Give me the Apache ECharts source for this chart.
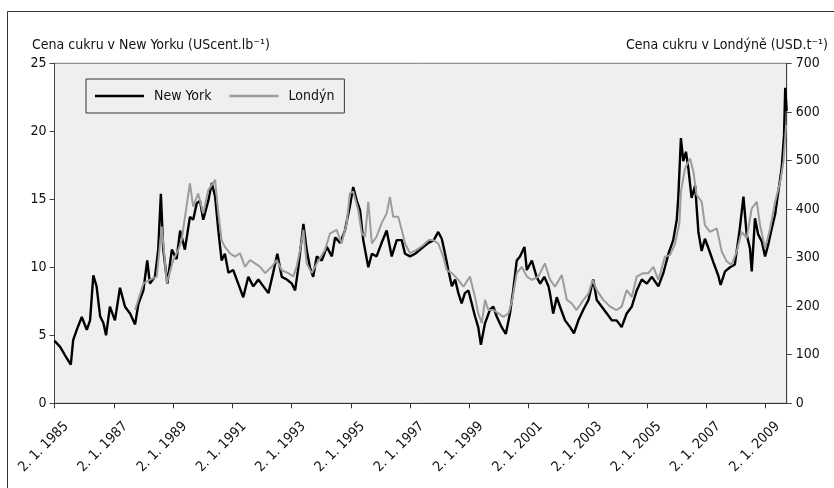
<!DOCTYPE html>
<html>
<head>
<meta charset="utf-8">
<title>Cena cukru</title>
<script src="https://cdn.jsdelivr.net/npm/echarts@6/dist/echarts.min.js"></script>
<style>
  html, body { margin: 0; padding: 0; background: #ffffff; }
  #chart { width: 834px; height: 488px; }
</style>
</head>
<body>
<div id="chart"></div>
<script>
// New York raw sugar price, US cents per lb (left axis); time in decimal years
const nyYears = [1985.00,1985.05,1985.19,1985.35,1985.55,1985.63,1985.75,1985.92,1986.09,1986.20,1986.31,1986.42,1986.54,1986.65,1986.74,1986.87,1987.04,1987.21,1987.38,1987.55,1987.72,1987.83,1988.00,1988.13,1988.22,1988.39,1988.50,1988.59,1988.67,1988.81,1988.96,1989.12,1989.24,1989.40,1989.57,1989.68,1989.80,1989.91,1990.02,1990.19,1990.31,1990.42,1990.53,1990.64,1990.75,1990.87,1991.03,1991.20,1991.37,1991.54,1991.71,1991.88,1992.05,1992.22,1992.38,1992.52,1992.67,1992.84,1993.01,1993.12,1993.23,1993.40,1993.51,1993.62,1993.73,1993.85,1994.02,1994.19,1994.36,1994.47,1994.64,1994.80,1994.97,1995.08,1995.20,1995.31,1995.42,1995.59,1995.71,1995.87,1996.04,1996.21,1996.38,1996.55,1996.72,1996.83,1997.00,1997.17,1997.34,1997.62,1997.80,1997.95,1998.07,1998.18,1998.29,1998.41,1998.52,1998.63,1998.74,1998.85,1998.97,1999.08,1999.19,1999.30,1999.39,1999.53,1999.70,1999.81,1999.92,2000.09,2000.23,2000.37,2000.48,2000.60,2000.71,2000.86,2000.94,2001.11,2001.27,2001.39,2001.53,2001.67,2001.72,2001.83,2001.95,2002.06,2002.23,2002.40,2002.53,2002.68,2002.85,2003.02,2003.18,2003.30,2003.47,2003.64,2003.81,2003.97,2004.14,2004.31,2004.48,2004.65,2004.82,2004.99,2005.16,2005.38,2005.55,2005.72,2005.88,2006.00,2006.05,2006.14,2006.22,2006.31,2006.39,2006.50,2006.62,2006.73,2006.84,2006.95,2007.07,2007.23,2007.40,2007.48,2007.63,2007.80,2007.96,2008.13,2008.25,2008.36,2008.47,2008.53,2008.64,2008.75,2008.87,2008.98,2009.09,2009.21,2009.32,2009.43,2009.54,2009.62,2009.66,2009.71];
const nyPrices = [4.6,4.5,4.15,3.55,2.85,4.65,5.4,6.35,5.4,6.1,9.4,8.6,6.4,5.9,5.0,7.1,6.1,8.5,7.1,6.6,5.8,7.3,8.3,10.5,8.8,9.3,11.3,15.4,11.3,8.8,11.3,10.6,12.7,11.3,13.7,13.5,14.7,14.9,13.5,14.9,16.2,15.2,12.7,10.5,11.0,9.6,9.8,8.8,7.8,9.3,8.6,9.1,8.6,8.1,9.6,11.0,9.3,9.1,8.8,8.3,10.0,13.2,11.3,10.0,9.3,10.8,10.5,11.5,10.8,12.2,11.8,12.7,14.5,15.9,14.9,14.2,12.0,10.0,11.0,10.8,11.8,12.7,10.8,12.0,12.0,11.0,10.8,11.0,11.3,11.8,12.0,12.6,12.1,11.0,9.8,8.6,9.1,8.1,7.35,8.1,8.3,7.35,6.4,5.6,4.3,5.9,6.9,7.1,6.4,5.6,5.1,6.6,8.3,10.5,10.8,11.5,9.8,10.5,9.3,8.8,9.3,8.6,8.1,6.6,7.8,7.1,6.1,5.6,5.15,6.1,6.9,7.6,9.1,7.6,7.1,6.6,6.1,6.1,5.6,6.6,7.1,8.3,9.1,8.8,9.3,8.6,9.6,11.0,12.0,13.5,15.1,19.5,17.8,18.5,17.3,15.1,16.0,12.6,11.2,12.1,11.4,10.4,9.4,8.7,9.7,10.0,10.2,12.9,15.2,12.4,11.4,9.7,13.6,12.4,11.9,10.8,11.7,12.9,13.9,15.6,17.3,19.7,23.2,21.5];

// London white sugar price, USD per tonne (right axis)
const ldnYears = [1987.72,1988.00,1988.22,1988.45,1988.62,1988.79,1989.01,1989.18,1989.29,1989.57,1989.68,1989.85,1990.02,1990.19,1990.42,1990.53,1990.64,1990.75,1990.92,1991.09,1991.26,1991.43,1991.60,1991.77,1991.94,1992.11,1992.33,1992.50,1992.67,1992.89,1993.06,1993.17,1993.29,1993.40,1993.51,1993.68,1993.85,1994.13,1994.30,1994.52,1994.69,1994.86,1994.97,1995.08,1995.25,1995.37,1995.48,1995.59,1995.71,1995.87,1996.04,1996.21,1996.32,1996.43,1996.60,1996.72,1996.83,1997.00,1997.22,1997.45,1997.62,1997.78,1997.95,1998.12,1998.24,1998.41,1998.63,1998.80,1999.02,1999.19,1999.30,1999.42,1999.53,1999.64,1999.81,1999.98,2000.15,2000.32,2000.45,2000.60,2000.77,2000.94,2001.11,2001.33,2001.55,2001.72,2001.89,2002.12,2002.29,2002.45,2002.62,2002.85,2003.02,2003.16,2003.30,2003.52,2003.75,2003.97,2004.14,2004.31,2004.48,2004.65,2004.87,2005.04,2005.21,2005.38,2005.60,2005.77,2005.94,2006.09,2006.14,2006.28,2006.45,2006.56,2006.67,2006.84,2006.95,2007.12,2007.35,2007.52,2007.69,2007.85,2008.02,2008.19,2008.36,2008.53,2008.70,2008.81,2008.98,2009.15,2009.32,2009.49,2009.60,2009.69];
const ldnPrices = [192,247,254,261,364,247,295,316,336,453,405,432,391,439,460,391,336,322,309,302,309,281,295,288,281,268,281,295,274,268,261,281,316,357,288,268,288,316,350,357,329,371,432,436,398,350,343,415,329,343,371,391,425,384,384,357,329,309,316,326,336,336,329,302,274,268,254,240,261,219,185,165,213,192,192,185,178,185,213,268,281,261,254,261,288,255,240,264,213,206,192,213,226,254,233,213,199,192,199,233,219,261,268,268,281,254,302,305,328,371,436,484,504,477,429,415,367,353,360,312,292,285,312,353,340,401,415,367,319,360,415,456,497,573];

// x-axis ticks (every second year, 2 January)
const tickYears = [1985,1987,1989,1991,1993,1995,1997,1999,2001,2003,2005,2007,2009];
const tickLabels = ['2. 1. 1985','2. 1. 1987','2. 1. 1989','2. 1. 1991','2. 1. 1993','2. 1. 1995','2. 1. 1997','2. 1. 1999','2. 1. 2001','2. 1. 2003','2. 1. 2005','2. 1. 2007','2. 1. 2009'];

const seriesNames = ['New York', 'Londýn'];
const leftTitle = 'Cena cukru v New Yorku (UScent.lb⁻¹)';
const rightTitle = 'Cena cukru v Londýně (USD.t⁻¹)';

const FONT = "'Liberation Sans Narrow', 'Arial Narrow', 'DejaVu Sans Condensed', sans-serif";
const FS = 14;
const LABEL_SHIFT = 0.4; // rotated labels sit slightly right of their tick

const zip = (xs, ys) => xs.map((x, i) => [x, ys[i]]);

const chart = echarts.init(document.getElementById('chart'), null, { renderer: 'canvas' });

chart.setOption({
  animation: false,
  backgroundColor: '#ffffff',
  textStyle: { fontFamily: FONT },
  grid: {
    left: 54.5, right: 47.3, top: 63.3, bottom: 84.7,
    show: true, backgroundColor: '#efefef', borderColor: '#777', borderWidth: 1
  },
  legend: {
    data: seriesNames,
    icon: 'rect',
    left: 86, top: 79,
    orient: 'horizontal',
    padding: [9, 10, 9, 9],
    itemWidth: 49, itemHeight: 2.5, itemGap: 18,
    borderColor: '#333', borderWidth: 1,
    textStyle: { fontFamily: FONT, fontSize: FS, color: '#111', padding: [0, 0, 0, 5], lineHeight: 16 }
  },
  xAxis: {
    type: 'value',
    min: 1985, max: 2009.71,
    splitLine: { show: false },
    axisLine: { lineStyle: { color: '#333', width: 1 } },
    axisTick: { show: true, length: 5, customValues: tickYears, lineStyle: { color: '#333' } },
    axisLabel: {
      customValues: tickYears.map(y => y + LABEL_SHIFT),
      rotate: 45, margin: 21,
      fontFamily: FONT, fontSize: FS, color: '#111',
      formatter: v => {
        const i = tickYears.findIndex(y => Math.abs(y + LABEL_SHIFT - v) < 1e-6);
        return i >= 0 ? tickLabels[i] : '';
      }
    }
  },
  yAxis: [
    {
      type: 'value', min: 0, max: 25, interval: 5, position: 'left',
      splitLine: { show: false },
      axisLine: { show: true, lineStyle: { color: '#444' } },
      axisTick: { show: true, length: 5, lineStyle: { color: '#444' } },
      axisLabel: { margin: 8, fontFamily: FONT, fontSize: FS, color: '#111' }
    },
    {
      type: 'value', min: 0, max: 700, interval: 100, position: 'right',
      splitLine: { show: false },
      axisLine: { show: true, lineStyle: { color: '#444' } },
      axisTick: { show: true, length: 5, lineStyle: { color: '#444' } },
      axisLabel: { margin: 9, fontFamily: FONT, fontSize: FS, color: '#111' }
    }
  ],
  series: [
    {
      name: seriesNames[0], type: 'line', yAxisIndex: 0,
      data: zip(nyYears, nyPrices),
      symbol: 'none', showSymbol: false,
      lineStyle: { color: '#000000', width: 2.4 },
      itemStyle: { color: '#000000' }
    },
    {
      name: seriesNames[1], type: 'line', yAxisIndex: 1,
      data: zip(ldnYears, ldnPrices),
      symbol: 'none', showSymbol: false,
      lineStyle: { color: '#9c9c9c', width: 2 },
      itemStyle: { color: '#9c9c9c' }
    }
  ],
  graphic: [
    {
      type: 'rect', silent: true, z: -1,
      shape: { x: 7.5, y: 11.5, width: 900, height: 600 },
      style: { fill: null, stroke: '#333', lineWidth: 1 }
    },
    {
      type: 'text', left: 32, top: 38,
      style: { text: leftTitle, fontFamily: FONT, fontSize: FS, fill: '#111' }
    },
    {
      type: 'text', right: 6, top: 38,
      style: { text: rightTitle, fontFamily: FONT, fontSize: FS, fill: '#111' }
    }
  ]
});
</script>
</body>
</html>
